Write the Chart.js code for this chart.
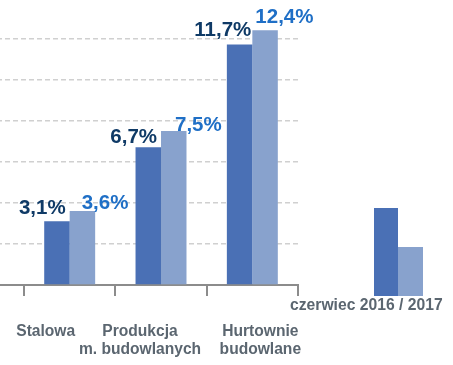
<!DOCTYPE html>
<html><head><meta charset="utf-8">
<script src="https://cdn.jsdelivr.net/npm/chart.js@4/dist/chart.umd.min.js"></script>
<style>
html,body{margin:0;padding:0;background:#fff;overflow:hidden}
#wrap{position:relative;width:453px;height:365px;overflow:hidden;background:#fff}
#c{position:absolute;left:-80px;top:0}
</style>
</head><body>
<div id="wrap"><canvas id="c" width="533" height="365"></canvas></div>
<script>
// ---- data ----
const categories = [[''], ['Stalowa'], ['Produkcja', 'm. budowlanych'], ['Hurtownie', 'budowlane']];
const series2016 = [null, 3.1, 6.7, 11.7];
const series2017 = [null, 3.6, 7.5, 12.4];
const yTicks = [0, 2, 4, 6, 8, 10, 12];
const legendText = 'czerwiec 2016 / 2017';

// ---- style ----
const DARK = '#4a70b5', LIGHT = '#88a2cd';
const DARK_TXT = '#0f3a66', LIGHT_TXT = '#1f6fc6';
const AXIS_TXT = '#5b6670';
const FONT = '"Liberation Sans", Arial, sans-serif';
const OFFSET = 80; // canvas shifted left by this
const catLabelDx = [0, -24, -21, 8];
// label placement nudges (px) per category: [dx, dy]
const darkNudge  = [[0, 0], [-4, -7], [-4, -4], [-1, -9]];
const lightNudge = [[0, 0], [12, -2], [14, 0], [3, -7]];
const target = {left: 12.7, right: 378, top: 38.4, bottom: 285};

const fmt = v => v.toFixed(1).replace('.', ',') + '%';

const valueLabels = {
  id: 'valueLabels',
  afterDatasetsDraw(chart) {
    const ctx = chart.ctx;
    ctx.save();
    ctx.font = 'bold 20.5px ' + FONT;
    ctx.textBaseline = 'alphabetic';
    chart.data.datasets.forEach((ds, i) => {
      const meta = chart.getDatasetMeta(i);
      meta.data.forEach((el, j) => {
        const v = ds.data[j];
        if (v == null) return;
        const p = el.getProps(['x', 'y', 'width'], true);
        if (i === 0) {
          const n = darkNudge[j];
          ctx.fillStyle = DARK_TXT; ctx.textAlign = 'right';
          ctx.fillText(fmt(v), p.x + p.width / 2 + n[0], p.y + n[1]);
        } else {
          const n = lightNudge[j];
          ctx.fillStyle = LIGHT_TXT; ctx.textAlign = 'left';
          ctx.fillText(fmt(v), p.x - p.width / 2 + n[0], p.y + n[1]);
        }
      });
    });
    ctx.restore();
  }
};

const catLabels = {
  id: 'catLabels',
  afterDraw(chart) {
    const ctx = chart.ctx, xs = chart.scales.x;
    ctx.save();
    ctx.font = 'bold 15.6px ' + FONT;
    ctx.fillStyle = AXIS_TXT;
    ctx.textAlign = 'center';
    ctx.textBaseline = 'alphabetic';
    categories.forEach((lines, i) => {
      const cx = xs.getPixelForValue(i) + catLabelDx[i];
      lines.forEach((t, k) => ctx.fillText(t, cx, 336 + k * 18));
    });
    ctx.restore();
  }
};

const legendBox = {
  id: 'legendBox',
  afterDraw(chart) {
    const ctx = chart.ctx;
    ctx.save();
    ctx.fillStyle = DARK;  ctx.fillRect(374 + OFFSET, 208, 24, 88);
    ctx.fillStyle = LIGHT; ctx.fillRect(398 + OFFSET, 247, 25, 49);
    ctx.font = 'bold 15.7px ' + FONT;
    ctx.fillStyle = AXIS_TXT;
    ctx.textAlign = 'left';
    ctx.textBaseline = 'alphabetic';
    ctx.fillText(legendText, 290 + OFFSET, 310);
    ctx.restore();
  }
};

const chart = new Chart(document.getElementById('c'), {
  type: 'bar',
  data: {
    labels: categories.map(c => c.join(' ')),
    datasets: [
      {label: '2016', data: series2016, backgroundColor: DARK, clip: false},
      {label: '2017', data: series2017, backgroundColor: LIGHT, clip: false}
    ]
  },
  options: {
    responsive: false,
    animation: false,
    layout: {padding: {left: target.left, right: 533 - target.right, top: target.top, bottom: 365 - target.bottom - 11}},
    datasets: {bar: {categoryPercentage: 0.558, barPercentage: 1}},
    plugins: {legend: {display: false}, tooltip: {enabled: false}},
    scales: {
      x: {
        offset: true,
        grid: {drawOnChartArea: false, offset: true, tickLength: 11, color: '#8c8c8c', lineWidth: 2},
        border: {color: '#8c8c8c', width: 2},
        ticks: {display: false}
      },
      y: {
        min: yTicks[0], max: yTicks[yTicks.length - 1],
        afterBuildTicks: s => { s.ticks = yTicks.map(v => ({value: v})); },
        ticks: {display: false},
        grid: {drawTicks: false, tickLength: 0, lineWidth: 1.5,
               color: c => (c.tick && c.tick.value === 0) ? 'rgba(0,0,0,0)' : '#d0d0d0'},
        border: {display: false, dash: [5, 3]}
      }
    }
  },
  plugins: [valueLabels, catLabels, legendBox]
});

// fine-align the plot area to target
const ca = chart.chartArea;
const pad = chart.options.layout.padding;
pad.left += target.left - ca.left;
pad.right += ca.right - target.right;
pad.top += target.top - ca.top;
pad.bottom += ca.bottom - target.bottom;
chart.update('none');
</script>
</body></html>
